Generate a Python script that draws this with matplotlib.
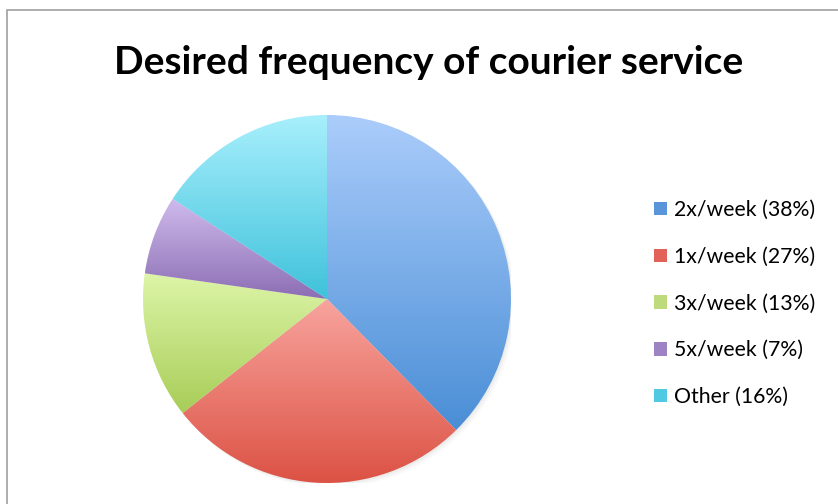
import numpy as np
import matplotlib.pyplot as plt
from matplotlib.colors import LinearSegmentedColormap
from matplotlib.patches import Patch, Rectangle, Circle

# survey shares
labels = ["2x/week", "1x/week", "3x/week", "5x/week", "Other"]
shares = [38, 27, 13, 7, 16]
# gradient end colours per slice (top, bottom) and legend swatch colour
top_colors = ["#abcdfb", "#f8a49e", "#ddf5a8", "#cfbbec", "#a8effc"]
bottom_colors = ["#4a8ed6", "#dc5244", "#a8cd58", "#8c6eb4", "#3fc2db"]
swatch_colors = ["#5a95da", "#e2625a", "#bddb7c", "#9d82c4", "#4fcae2"]

plt.rcParams['font.family'] = ['Lato', 'DejaVu Sans']

fig = plt.figure(figsize=(8.38, 5.04), dpi=100)
W, H = 838, 504

# frame around the chart area
fig.patches.append(Rectangle((7 / W, -0.1), 1.2, 1.1 - 10 / H, transform=fig.transFigure,
                             fill=False, edgecolor="#a0a0a0", linewidth=1.2))

fig.text(429 / W, 1 - 62 / H, "Desired frequency of courier service",
         ha="center", va="center", fontsize=28, fontweight="bold")

cx, cy, r = 327, 504 - 299, 184
ax = fig.add_axes([(cx - r) / W, (cy - r) / H, 2 * r / W, 2 * r / H])
ax.set_xlim(-1, 1)
ax.set_ylim(-1, 1)
ax.axis("off")

# soft shadow under the pie
for i, a in enumerate([0.03, 0.025, 0.02]):
    ax.add_patch(Circle((0.008 * (i + 1), -0.008 * (i + 1)), 1.0, color="black",
                        alpha=a, linewidth=0, zorder=0))

wedges, _ = ax.pie(shares, startangle=90, counterclock=False, radius=1,
                   wedgeprops=dict(facecolor="none", edgecolor="none"))
ax.set_xlim(-1, 1)
ax.set_ylim(-1, 1)

grad = np.linspace(0, 1, 256).reshape(-1, 1)
for w, c0, c1 in zip(wedges, top_colors, bottom_colors):
    ext = w.get_path().get_extents()
    cmap = LinearSegmentedColormap.from_list("g", [c0, c1])
    im = ax.imshow(grad, cmap=cmap, aspect="auto", origin="upper",
                   extent=(ext.x0, ext.x1, ext.y0, ext.y1), zorder=2)
    im.set_clip_path(w)
    w.set_zorder(3)

handles = [Patch(facecolor=c, edgecolor="none") for c in swatch_colors]
legend_labels = [f"{l} ({s}%)" for l, s in zip(labels, shares)]
fig.legend(handles, legend_labels, loc="upper left", bbox_to_anchor=(654 / W, 1 - 200 / H),
           frameon=False, fontsize=15.3, handlelength=0.6, handleheight=0.6,
           handletextpad=0.35, labelspacing=1.26, borderpad=0, borderaxespad=0)

fig.savefig("out.png", dpi=100)
